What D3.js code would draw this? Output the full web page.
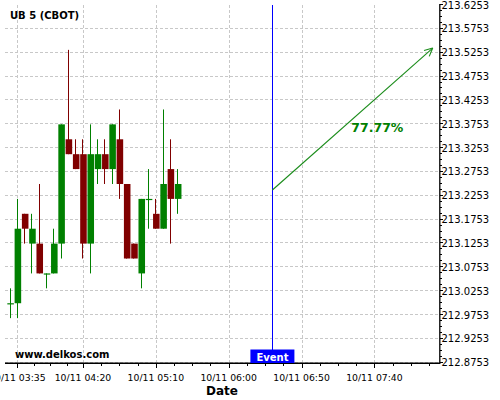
<!DOCTYPE html>
<html><head><meta charset="utf-8">
<script src="https://cdn.jsdelivr.net/npm/d3@7"></script>
<style>body{margin:0;background:#fff;}svg{display:block;}</style>
</head><body>
<svg id="c" width="500" height="400"></svg>
<script>
// ---- data ----
const title = "UB 5 (CBOT)";
const times = ["03:30","03:35","03:40","03:45","03:50","03:55","04:00","04:05","04:10","04:15","04:20","04:25",
               "04:30","04:35","04:40","04:45","04:50","04:55","05:00","05:05","05:10","05:15","05:20","05:25"];
const open  = [213.0,213.0,213.1875,213.125,213.125,213.0625,213.0625,213.125,213.34375,213.3125,213.3125,213.125,
               213.28125,213.3125,213.28125,213.34375,213.25,213.125,213.0625,213.21875,213.1875,213.15625,213.28125,213.21875];
const high  = [213.03125,213.21875,213.1875,213.1875,213.25,213.0625,213.15625,213.375,213.53125,213.34375,213.34375,213.375,
               213.34375,213.34375,213.375,213.40625,213.25,213.125,213.21875,213.28125,213.21875,213.40625,213.34375,213.28125];
const low   = [212.96875,212.96875,213.125,213.0625,213.0625,213.03125,213.0625,213.09375,213.3125,213.28125,213.09375,213.0625,
               213.25,213.25,213.25,213.21875,213.09375,213.09375,213.03125,213.15625,213.15625,213.15625,213.125,213.1875];
const close = [213.0,213.15625,213.15625,213.15625,213.0625,213.0625,213.125,213.375,213.3125,213.28125,213.125,213.3125,
               213.3125,213.28125,213.375,213.25,213.09375,213.09375,213.21875,213.21875,213.15625,213.25,213.21875,213.25];
const xTickIndex  = [1,10,20,30,40,50];
const xTickLabels = ["10/11 03:35","10/11 04:20","10/11 05:10","10/11 06:00","10/11 06:50","10/11 07:40"];
const yTicks = [212.8753,212.9253,212.9753,213.0253,213.0753,213.1253,213.1753,213.2253,
                213.2753,213.3253,213.3753,213.4253,213.4753,213.5253,213.5753,213.6253];
const eventIndex = 36;
const eventLabel = "Event";
const arrowFrom = {i:36, p:213.2374};
const arrowTo   = {i:58, p:213.535};
const forecastText = "77.77%";
const forecastPos = {i:50.4, p:213.360};
const watermark = "www.delkos.com";
const xTitle = "Date";

// ---- layout ----
const L = 5, R = 440, T = 5, B = 363;
const svg = d3.select("#c");
const FONT = "DejaVu Sans, sans-serif";
const x = d3.scaleLinear().domain([-0.7, 59]).range([L, R]);
const y = d3.scaleLinear().domain([212.8753, 213.6253]).range([362.7, T]);

// grid
const grid = svg.append("g").attr("stroke","#c8c8c8").attr("stroke-dasharray","3,2").attr("stroke-width",1)
  .attr("shape-rendering","crispEdges");
grid.selectAll("line.h").data(yTicks.slice(0,-1)).enter().append("line")
  .attr("x1",L).attr("x2",R).attr("y1",d=>Math.round(y(d))-0.5).attr("y2",d=>Math.round(y(d))-0.5);
grid.selectAll("line.v").data(xTickIndex).enter().append("line")
  .attr("y1",T).attr("y2",B).attr("x1",d=>Math.round(x(d))+0.5).attr("x2",d=>Math.round(x(d))+0.5);

// candles
const n = open.length;
const step = x(1)-x(0);
const bw = step*0.9;
const cg = svg.append("g");
for(let i=0;i<n;i++){
  const up = close[i] >= open[i];
  const col = up ? "#008000" : "#800000";
  const cx = x(i);
  cg.append("rect").attr("x",Math.floor(cx)).attr("width",1)
    .attr("y",y(high[i])).attr("height",Math.max(1,y(low[i])-y(high[i]))).attr("fill",col);
  const top = y(Math.max(open[i],close[i])), bot = y(Math.min(open[i],close[i]));
  cg.append("rect").attr("x",cx-bw/2+0.5).attr("width",bw)
    .attr("y",top).attr("height",Math.max(1.2,bot-top)).attr("fill",col);
}

// event line
svg.append("line").attr("x1",Math.floor(x(eventIndex))+0.5).attr("x2",Math.floor(x(eventIndex))+0.5).attr("y1",T).attr("y2",B)
  .attr("stroke","#0000ff").attr("stroke-width",1);

// arrow
const ax1=x(arrowFrom.i), ay1=y(arrowFrom.p), ax2=x(arrowTo.i), ay2=y(arrowTo.p);
const ag = svg.append("g").attr("stroke","#1a8c1a").attr("stroke-width",1.1).attr("fill","none");
ag.append("line").attr("x1",ax1).attr("y1",ay1).attr("x2",ax2).attr("y2",ay2);
const ang = Math.atan2(ay2-ay1, ax2-ax1), hl = 9, ha = 0.45;
[ang+Math.PI-ha, ang+Math.PI+ha].forEach(a=>{
  ag.append("line").attr("x1",ax2).attr("y1",ay2).attr("x2",ax2+hl*Math.cos(a)).attr("y2",ay2+hl*Math.sin(a));
});
svg.append("text").attr("x",x(forecastPos.i)).attr("y",y(forecastPos.p)).attr("text-anchor","middle")
  .attr("font-family",FONT).attr("font-weight","bold").attr("font-size","12.5px").attr("fill","#008000").text(forecastText);

// axes
svg.append("line").attr("x1",L).attr("x2",R).attr("y1",363.25).attr("y2",363.25).attr("stroke","#000").attr("stroke-width",1.5);
svg.append("line").attr("x1",439.8).attr("x2",439.8).attr("y1",T-1).attr("y2",364).attr("stroke","#000").attr("stroke-width",1.3);

// x ticks
const xMinor = [];
for(let k=0;k<xTickIndex.length;k++){
  const a = xTickIndex[k];
  const d = k<xTickIndex.length-1 ? xTickIndex[k+1]-a : xTickIndex[k]-xTickIndex[k-1];
  for(let m=1;m<4;m++){ const v=a+m*d/4; if(x(v)<R-2) xMinor.push(v); }
}
const tg = svg.append("g").attr("stroke","#000").attr("stroke-width",1).attr("shape-rendering","crispEdges");
tg.selectAll("line.xm").data(xTickIndex).enter().append("line")
  .attr("x1",d=>Math.round(x(d))+0.5).attr("x2",d=>Math.round(x(d))+0.5).attr("y1",363).attr("y2",368);
tg.selectAll("line.xn").data(xMinor).enter().append("line")
  .attr("x1",d=>Math.round(x(d))+0.5).attr("x2",d=>Math.round(x(d))+0.5).attr("y1",363).attr("y2",366);
svg.append("g").selectAll("text").data(xTickIndex).enter().append("text")
  .attr("x",d=>x(d)).attr("y",380.5).attr("text-anchor","middle").attr("font-family",FONT)
  .attr("font-size","9.3px").attr("fill","#000").text((d,i)=>xTickLabels[i]);

// y ticks
const yMinor = [];
for(let k=0;k<yTicks.length-1;k++){ for(let m=1;m<4;m++) yMinor.push(yTicks[k]+m*(yTicks[k+1]-yTicks[k])/4); }
tg.selectAll("line.ym").data(yTicks).enter().append("line")
  .attr("x1",440).attr("x2",443).attr("y1",d=>Math.round(y(d))-0.5).attr("y2",d=>Math.round(y(d))-0.5);
tg.selectAll("line.yn").data(yMinor).enter().append("line")
  .attr("x1",440).attr("x2",442).attr("y1",d=>Math.round(y(d))-0.5).attr("y2",d=>Math.round(y(d))-0.5);
svg.append("g").selectAll("text").data(yTicks).enter().append("text")
  .attr("x",441.5).attr("y",d=>y(d)).attr("dy","0.35em").attr("font-family",FONT)
  .attr("font-size","10px").attr("fill","#000").text(d=>d.toFixed(4));

// event label
const ex = x(eventIndex);
svg.append("rect").attr("x",ex-22).attr("y",349.5).attr("width",44).attr("height",13.5).attr("fill","#0000ff");
svg.append("text").attr("x",ex).attr("y",360.5).attr("text-anchor","middle").attr("font-family",FONT)
  .attr("font-weight","bold").attr("font-size","10px").attr("fill","#fff").text(eventLabel);

// texts
svg.append("text").attr("x",10).attr("y",19).attr("font-family",FONT).attr("font-weight","bold")
  .attr("font-size","10px").attr("fill","#000").text(title);
svg.append("text").attr("x",15).attr("y",357.5).attr("font-family",FONT).attr("font-weight","bold")
  .attr("font-size","10px").attr("fill","#000").text(watermark);
svg.append("text").attr("x",222).attr("y",394.5).attr("text-anchor","middle").attr("font-family",FONT)
  .attr("font-weight","bold").attr("font-size","12px").attr("fill","#000").text(xTitle);
</script>
</body></html>
